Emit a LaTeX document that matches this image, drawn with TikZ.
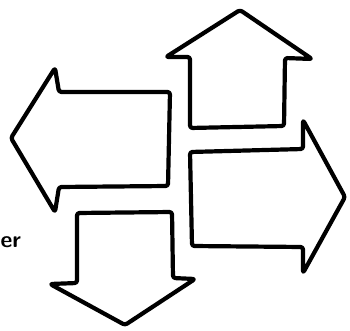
\documentclass[tikz,border=0pt]{standalone}
\usepackage{tikz}
\usetikzlibrary{positioning}

\begin{document}
\begin{tikzpicture}[x=1pt, y=-1pt,
  arrowline/.style={line width=4.2pt, line join=round, rounded corners=2.5pt, fill=white}]

% page
\useasboundingbox (0,0) rectangle (350,331);
\clip (0,0) rectangle (350,331);

% up arrow
\draw[arrowline] (190,128) -- (190,57) -- (166,57) -- (240,10) -- (312,59)
  -- (285,58) -- (284,126) -- cycle;

% left arrow
\draw[arrowline] (170,92) -- (59,92) -- (55,68) -- (11,138) -- (55,212)
  -- (59,187) -- (168,186) -- cycle;

% right arrow
\draw[arrowline] (190,152) -- (303,149) -- (303,120) -- (345,197) -- (303,273)
  -- (303,247) -- (192,246) -- cycle;

% down arrow
\draw[arrowline] (77,213) -- (172,212) -- (173,278) -- (195,279) -- (125,325)
  -- (50,284) -- (77,283) -- cycle;

% word at the left edge
\node[anchor=base west, inner sep=0pt, font=\sffamily\bfseries\fontsize{23}{23}\selectfont] (word) at (0.5,247) {er};

\end{tikzpicture}
\end{document}
